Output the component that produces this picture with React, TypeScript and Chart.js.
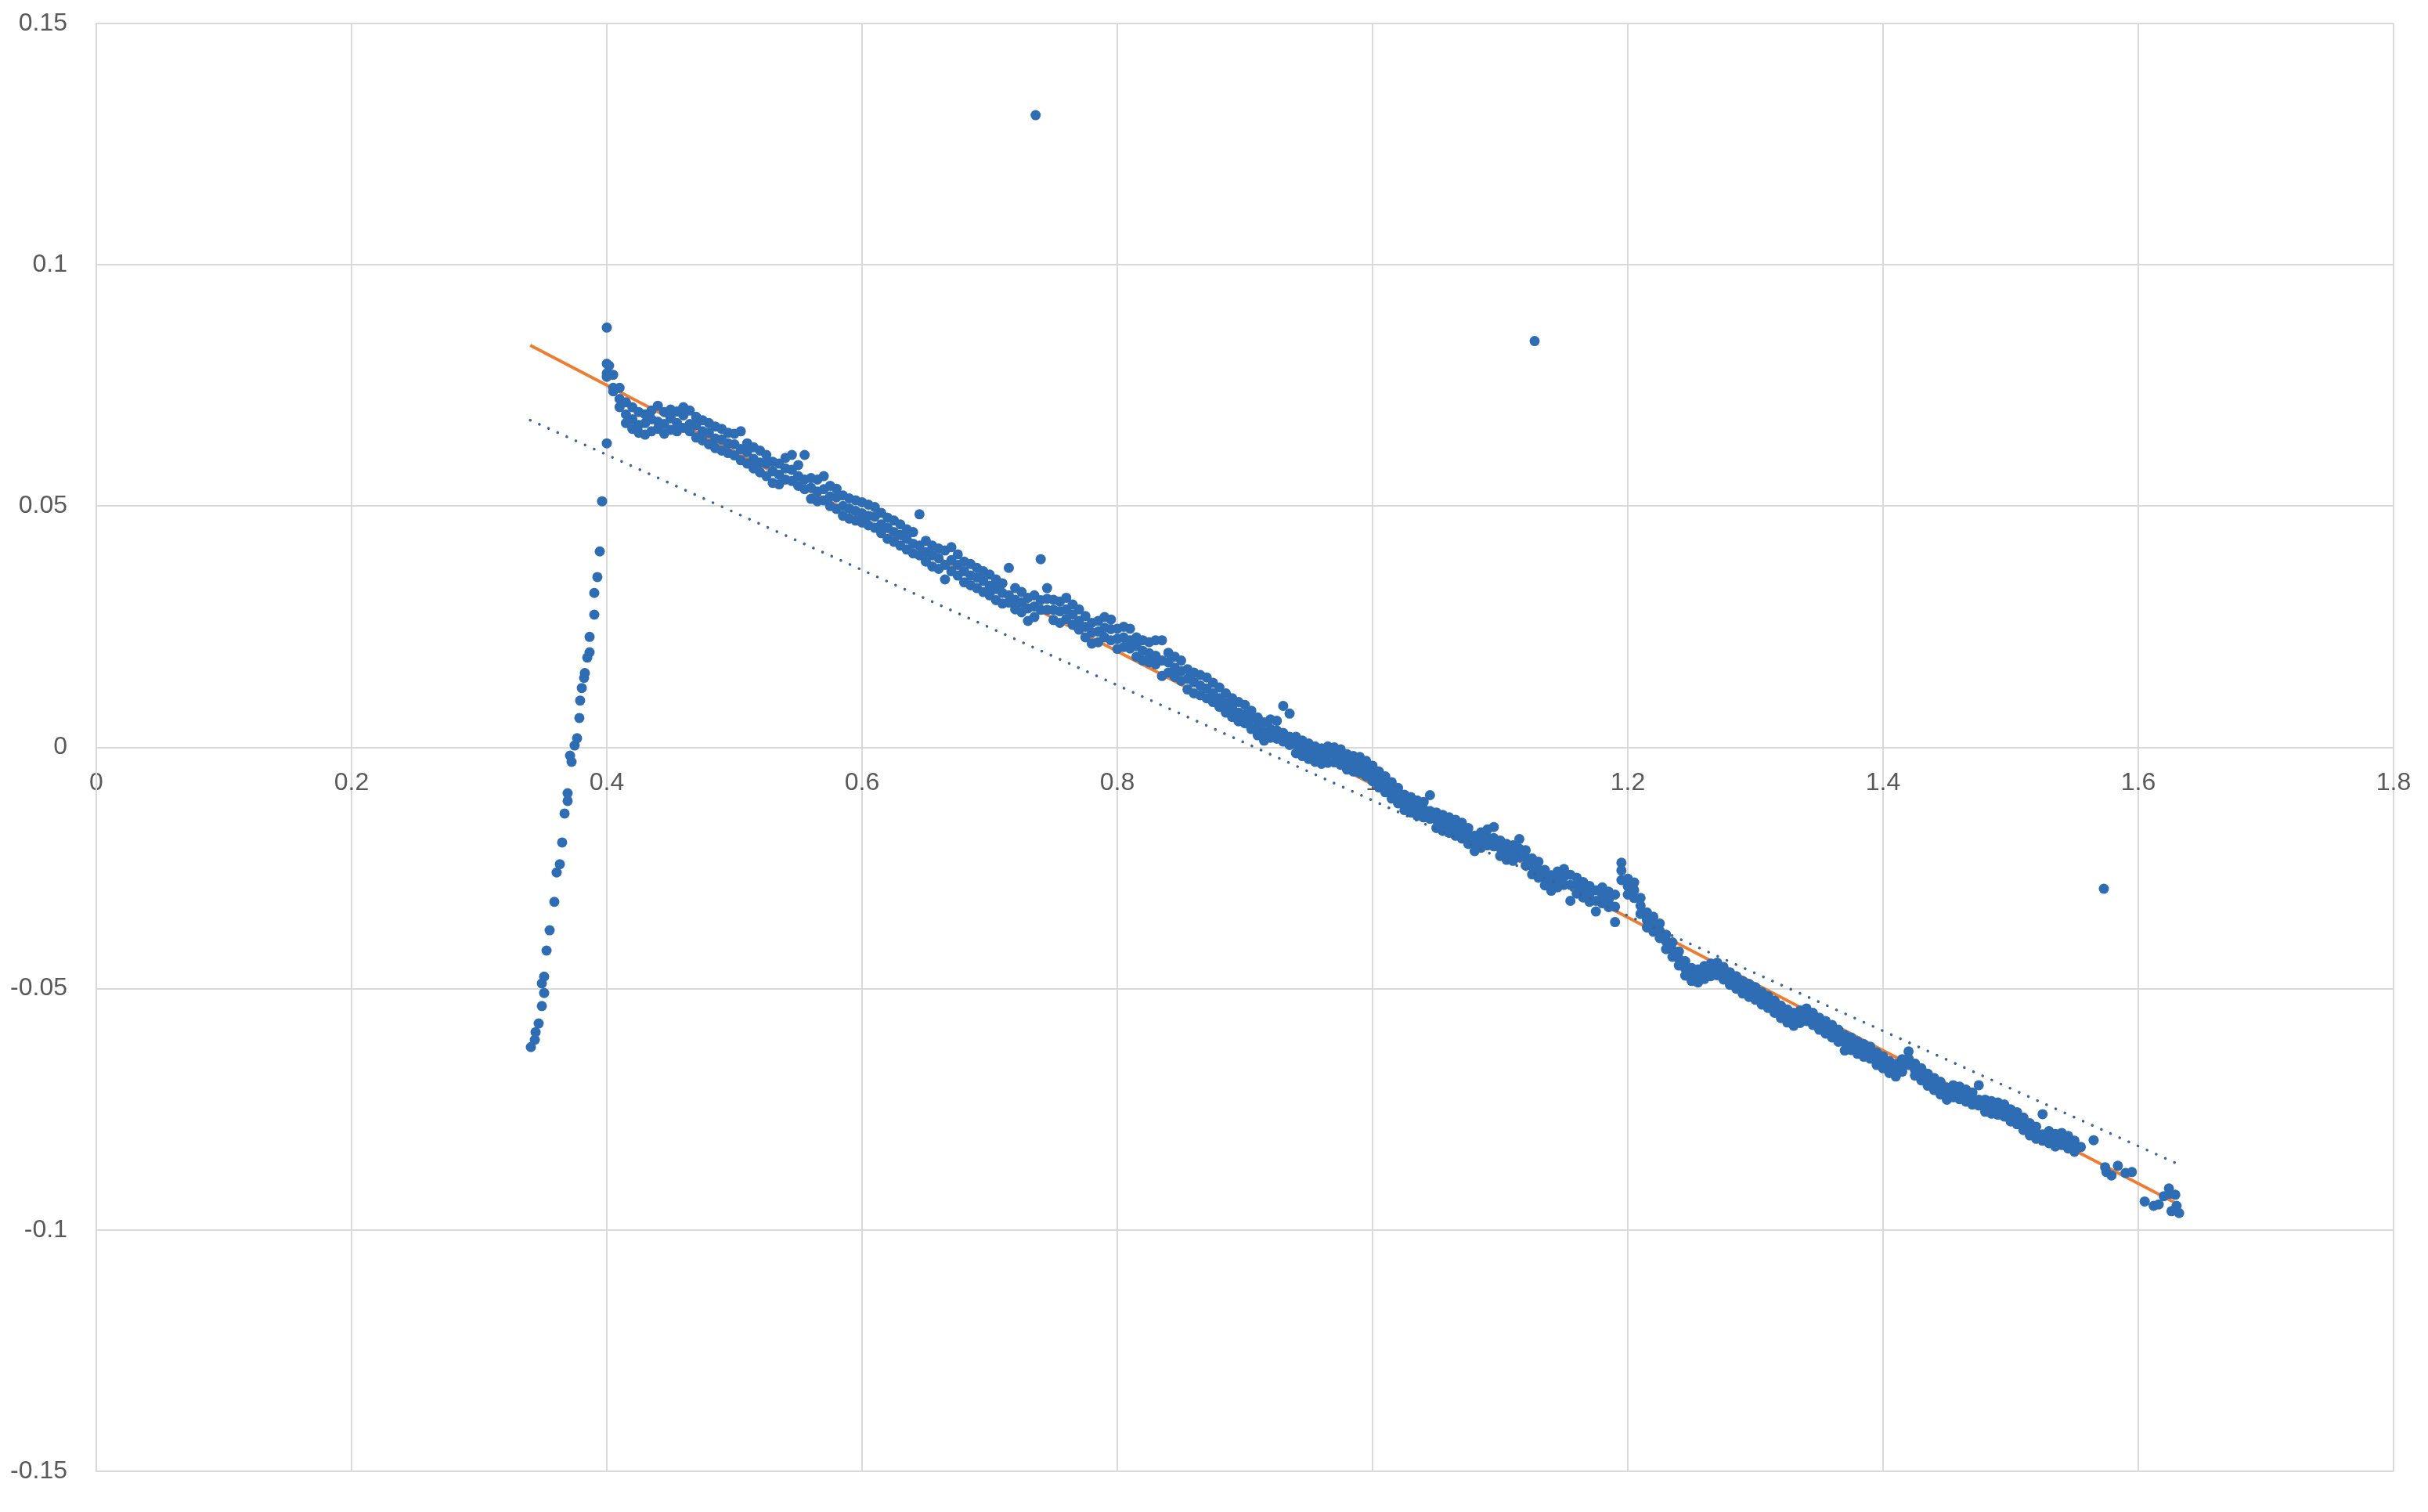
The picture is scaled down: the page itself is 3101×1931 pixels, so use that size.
import React, { useEffect, useRef } from "react";
import { Chart, registerables } from "chart.js";

Chart.register(...registerables);

const W = 3101;
const H = 1931;

// Rising branch at the left
const risingX = [0.3405, 0.3436, 0.3442, 0.3466, 0.3491, 0.3509, 0.3491, 0.3509, 0.3528, 0.3552, 0.3589, 0.3607, 0.3632, 0.3650, 0.3669, 0.3693, 0.3693, 0.3724, 0.3712, 0.3748, 0.3767, 0.3785, 0.3791, 0.3804, 0.3822, 0.3828, 0.3847, 0.3865, 0.3865, 0.3902, 0.3902, 0.3926, 0.3945, 0.3963, 0.4000, 0.4000, 0.4018];
const risingY = [-0.0621, -0.0606, -0.0590, -0.0572, -0.0536, -0.0509, -0.0489, -0.0475, -0.0421, -0.0379, -0.0320, -0.0259, -0.0242, -0.0197, -0.0137, -0.0111, -0.0095, -0.0030, -0.0017, 0.0004, 0.0019, 0.0061, 0.0097, 0.0123, 0.0144, 0.0154, 0.0186, 0.0197, 0.0229, 0.0275, 0.0320, 0.0353, 0.0406, 0.0510, 0.0630, 0.0870, 0.0791];

// Main declining band: x positions with upper, middle and lower readings
const bandX = [
  0.400, 0.405, 0.410, 0.415, 0.420, 0.425, 0.430, 0.435, 0.440, 0.445,
  0.450, 0.455, 0.460, 0.465, 0.470, 0.475, 0.480, 0.485, 0.490, 0.495,
  0.500, 0.505, 0.510, 0.515, 0.520, 0.525, 0.530, 0.535, 0.540, 0.545,
  0.550, 0.555, 0.560, 0.565, 0.570, 0.575, 0.580, 0.585, 0.590, 0.595,
  0.600, 0.605, 0.610, 0.615, 0.620, 0.625, 0.630, 0.635, 0.640, 0.645,
  0.650, 0.655, 0.660, 0.665, 0.670, 0.675, 0.680, 0.685, 0.690, 0.695,
  0.700, 0.705, 0.710, 0.715, 0.720, 0.725, 0.730, 0.735, 0.740, 0.745,
  0.750, 0.755, 0.760, 0.765, 0.770, 0.775, 0.780, 0.785, 0.790, 0.795,
  0.800, 0.805, 0.810, 0.815, 0.820, 0.825, 0.830, 0.835, 0.840, 0.845,
  0.850, 0.855, 0.860, 0.865, 0.870, 0.875, 0.880, 0.885, 0.890, 0.895,
  0.900, 0.905, 0.910, 0.915, 0.920, 0.925, 0.930, 0.935, 0.940, 0.945,
  0.950, 0.955, 0.960, 0.965, 0.970, 0.975, 0.980, 0.985, 0.990, 0.995,
  1.000, 1.005, 1.010, 1.015, 1.020, 1.025, 1.030, 1.035, 1.040, 1.045,
  1.050, 1.055, 1.060, 1.065, 1.070, 1.075, 1.080, 1.085, 1.090, 1.095,
  1.100, 1.105, 1.110, 1.115, 1.120, 1.125, 1.130, 1.135, 1.140, 1.145,
  1.150, 1.155, 1.160, 1.165, 1.170, 1.175, 1.180, 1.185, 1.190, 1.195,
  1.200, 1.205, 1.210, 1.215, 1.220, 1.225, 1.230, 1.235, 1.240, 1.245,
  1.250, 1.255, 1.260, 1.265, 1.270, 1.275, 1.280, 1.285, 1.290, 1.295,
  1.300, 1.305, 1.310, 1.315, 1.320, 1.325, 1.330, 1.335, 1.340, 1.345,
  1.350, 1.355, 1.360, 1.365, 1.370, 1.375, 1.380, 1.385, 1.390, 1.395,
  1.400, 1.405, 1.410, 1.415, 1.420, 1.425, 1.430, 1.435, 1.440, 1.445,
  1.450, 1.455, 1.460, 1.465, 1.470, 1.475, 1.480, 1.485, 1.490, 1.495,
  1.500, 1.505, 1.510, 1.515, 1.520, 1.525, 1.530, 1.535, 1.540, 1.545,
  1.550,
];
const bandHi = [
  0.0795, 0.0772, 0.0745, 0.0715, 0.0705, 0.0695, 0.0690, 0.0698, 0.0708, 0.0695,
  0.0700, 0.0696, 0.0705, 0.0698, 0.0685, 0.0678, 0.0672, 0.0665, 0.0660, 0.0652,
  0.0650, 0.0655, 0.0630, 0.0622, 0.0615, 0.0606, 0.0592, 0.0588, 0.0600, 0.0606,
  0.0585, 0.0606, 0.0558, 0.0555, 0.0562, 0.0542, 0.0536, 0.0522, 0.0516, 0.0512,
  0.0508, 0.0503, 0.0498, 0.0486, 0.0476, 0.0470, 0.0462, 0.0452, 0.0446, 0.0483,
  0.0428, 0.0418, 0.0412, 0.0408, 0.0415, 0.0400, 0.0385, 0.0380, 0.0372, 0.0365,
  0.0358, 0.0348, 0.0340, 0.0372, 0.0330, 0.0322, 0.0310, 0.0315, 0.0390, 0.0330,
  0.0306, 0.0302, 0.0310, 0.0296, 0.0286, 0.0272, 0.0258, 0.0262, 0.0270, 0.0265,
  0.0246, 0.0250, 0.0246, 0.0228, 0.0222, 0.0218, 0.0222, 0.0222, 0.0196, 0.0188,
  0.0180, 0.0162, 0.0155, 0.0150, 0.0145, 0.0134, 0.0124, 0.0112, 0.0102, 0.0094,
  0.0088, 0.0076, 0.0062, 0.0052, 0.0058, 0.0055, 0.0086, 0.0070, 0.0022, 0.0014,
  0.0008, 0.0002, -0.0002, 0.0002, 0.0000, -0.0004, -0.0014, -0.0018, -0.0020, -0.0028,
  -0.0038, -0.0050, -0.0060, -0.0072, -0.0084, -0.0098, -0.0103, -0.0110, -0.0113, -0.0099,
  -0.0135, -0.0140, -0.0145, -0.0150, -0.0156, -0.0167, -0.0183, -0.0176, -0.0170, -0.0165,
  -0.0193, -0.0200, -0.0203, -0.0190, -0.0213, -0.0230, -0.0237, -0.0254, -0.0265, -0.0257,
  -0.0252, -0.0264, -0.0270, -0.0279, -0.0287, -0.0296, -0.0290, -0.0299, -0.0305, -0.0239,
  -0.0272, -0.0280, -0.0312, -0.0342, -0.0351, -0.0365, -0.0388, -0.0404, -0.0423, -0.0443,
  -0.0457, -0.0460, -0.0453, -0.0448, -0.0446, -0.0455, -0.0466, -0.0474, -0.0484, -0.0490,
  -0.0497, -0.0507, -0.0515, -0.0525, -0.0535, -0.0543, -0.0550, -0.0545, -0.0541, -0.0550,
  -0.0560, -0.0567, -0.0575, -0.0585, -0.0596, -0.0601, -0.0609, -0.0615, -0.0620, -0.0632,
  -0.0640, -0.0650, -0.0656, -0.0646, -0.0630, -0.0655, -0.0665, -0.0676, -0.0685, -0.0693,
  -0.0705, -0.0700, -0.0703, -0.0709, -0.0715, -0.0700, -0.0730, -0.0733, -0.0736, -0.0740,
  -0.0750, -0.0756, -0.0767, -0.0779, -0.0786, -0.0760, -0.0795, -0.0801, -0.0799, -0.0805,
  -0.0815,
];
const bandMid = [
  0.0775, 0.0745, 0.0722, 0.0690, 0.0680, 0.0668, 0.0672, 0.0680, 0.0675, 0.0670,
  0.0682, 0.0672, 0.0688, 0.0670, 0.0668, 0.0655, 0.0652, 0.0640, 0.0638, 0.0630,
  0.0628, 0.0618, 0.0612, 0.0598, 0.0590, 0.0588, 0.0572, 0.0565, 0.0578, 0.0575,
  0.0562, 0.0555, 0.0538, 0.0530, 0.0535, 0.0520, 0.0518, 0.0500, 0.0495, 0.0490,
  0.0485, 0.0480, 0.0478, 0.0462, 0.0455, 0.0446, 0.0440, 0.0432, 0.0422, 0.0418,
  0.0405, 0.0398, 0.0392, 0.0378, 0.0388, 0.0378, 0.0365, 0.0356, 0.0352, 0.0345,
  0.0335, 0.0328, 0.0320, 0.0315, 0.0306, 0.0300, 0.0288, 0.0292, 0.0305, 0.0308,
  0.0285, 0.0282, 0.0286, 0.0275, 0.0262, 0.0250, 0.0238, 0.0240, 0.0248, 0.0245,
  0.0225, 0.0228, 0.0222, 0.0210, 0.0200, 0.0195, 0.0190, 0.0180, 0.0176, 0.0165,
  0.0158, 0.0142, 0.0135, 0.0128, 0.0122, 0.0112, 0.0102, 0.0092, 0.0082, 0.0072,
  0.0068, 0.0058, 0.0044, 0.0032, 0.0038, 0.0035, 0.0030, 0.0022, 0.0006, -0.0002,
  -0.0008, -0.0012, -0.0018, -0.0014, -0.0016, -0.0020, -0.0030, -0.0034, -0.0036, -0.0044,
  -0.0054, -0.0066, -0.0076, -0.0088, -0.0100, -0.0112, -0.0120, -0.0126, -0.0128, -0.0132,
  -0.0150, -0.0156, -0.0162, -0.0166, -0.0172, -0.0182, -0.0198, -0.0192, -0.0186, -0.0188,
  -0.0208, -0.0216, -0.0220, -0.0210, -0.0228, -0.0246, -0.0254, -0.0270, -0.0280, -0.0274,
  -0.0268, -0.0285, -0.0286, -0.0295, -0.0304, -0.0318, -0.0306, -0.0316, -0.0330, -0.0255,
  -0.0288, -0.0296, -0.0328, -0.0358, -0.0366, -0.0380, -0.0402, -0.0420, -0.0438, -0.0458,
  -0.0470, -0.0474, -0.0466, -0.0460, -0.0460, -0.0468, -0.0479, -0.0488, -0.0498, -0.0504,
  -0.0510, -0.0520, -0.0528, -0.0538, -0.0548, -0.0556, -0.0564, -0.0558, -0.0554, -0.0562,
  -0.0572, -0.0580, -0.0588, -0.0598, -0.0612, -0.0614, -0.0622, -0.0628, -0.0632, -0.0645,
  -0.0652, -0.0662, -0.0670, -0.0660, -0.0645, -0.0668, -0.0678, -0.0688, -0.0698, -0.0706,
  -0.0718, -0.0712, -0.0716, -0.0722, -0.0728, -0.0730, -0.0742, -0.0746, -0.0748, -0.0752,
  -0.0762, -0.0768, -0.0780, -0.0792, -0.0798, -0.0802, -0.0808, -0.0814, -0.0812, -0.0818,
  -0.0826,
];
const bandLo = [
  0.0768, 0.0738, 0.0705, 0.0672, 0.0660, 0.0652, 0.0648, 0.0655, 0.0660, 0.0650,
  0.0658, 0.0655, 0.0662, 0.0655, 0.0642, 0.0636, 0.0628, 0.0620, 0.0615, 0.0610,
  0.0605, 0.0595, 0.0588, 0.0578, 0.0570, 0.0562, 0.0548, 0.0545, 0.0555, 0.0552,
  0.0542, 0.0535, 0.0515, 0.0510, 0.0512, 0.0500, 0.0494, 0.0480, 0.0474, 0.0470,
  0.0466, 0.0460, 0.0455, 0.0444, 0.0432, 0.0426, 0.0418, 0.0410, 0.0402, 0.0398,
  0.0385, 0.0375, 0.0370, 0.0348, 0.0365, 0.0356, 0.0342, 0.0336, 0.0330, 0.0322,
  0.0315, 0.0305, 0.0298, 0.0300, 0.0286, 0.0280, 0.0262, 0.0270, 0.0285, 0.0285,
  0.0264, 0.0258, 0.0266, 0.0254, 0.0244, 0.0228, 0.0215, 0.0218, 0.0228, 0.0222,
  0.0204, 0.0208, 0.0205, 0.0188, 0.0180, 0.0176, 0.0172, 0.0148, 0.0155, 0.0146,
  0.0138, 0.0120, 0.0112, 0.0108, 0.0102, 0.0094, 0.0084, 0.0072, 0.0063, 0.0054,
  0.0050, 0.0038, 0.0025, 0.0014, 0.0020, 0.0018, 0.0012, 0.0005, -0.0012, -0.0018,
  -0.0024, -0.0030, -0.0034, -0.0032, -0.0031, -0.0036, -0.0046, -0.0050, -0.0053, -0.0060,
  -0.0070, -0.0083, -0.0093, -0.0106, -0.0116, -0.0130, -0.0135, -0.0142, -0.0145, -0.0148,
  -0.0167, -0.0173, -0.0177, -0.0183, -0.0189, -0.0200, -0.0215, -0.0208, -0.0203, -0.0205,
  -0.0225, -0.0233, -0.0235, -0.0228, -0.0245, -0.0263, -0.0270, -0.0286, -0.0297, -0.0290,
  -0.0285, -0.0318, -0.0303, -0.0311, -0.0320, -0.0340, -0.0323, -0.0331, -0.0362, -0.0275,
  -0.0305, -0.0312, -0.0345, -0.0373, -0.0382, -0.0395, -0.0418, -0.0434, -0.0452, -0.0473,
  -0.0484, -0.0487, -0.0480, -0.0474, -0.0472, -0.0481, -0.0492, -0.0500, -0.0510, -0.0517,
  -0.0523, -0.0533, -0.0540, -0.0550, -0.0561, -0.0570, -0.0577, -0.0571, -0.0567, -0.0575,
  -0.0585, -0.0593, -0.0601, -0.0610, -0.0628, -0.0627, -0.0635, -0.0641, -0.0645, -0.0658,
  -0.0665, -0.0675, -0.0682, -0.0672, -0.0658, -0.0680, -0.0690, -0.0701, -0.0710, -0.0719,
  -0.0730, -0.0725, -0.0729, -0.0734, -0.0740, -0.0742, -0.0755, -0.0759, -0.0761, -0.0765,
  -0.0775, -0.0781, -0.0793, -0.0804, -0.0811, -0.0815, -0.0820, -0.0827, -0.0824, -0.0831,
  -0.0838,
];

// Sparse tail at the right end
const tailX = [1.555, 1.565, 1.574, 1.575, 1.579, 1.584, 1.590, 1.595, 1.605, 1.612, 1.616, 1.620, 1.624, 1.625, 1.626, 1.629, 1.630, 1.632];
const tailY = [-0.0828, -0.0814, -0.0870, -0.0880, -0.0887, -0.0867, -0.0882, -0.0880, -0.0941, -0.0950, -0.0947, -0.0930, -0.0914, -0.0925, -0.0961, -0.0927, -0.0950, -0.0965];

// Isolated outliers
const outlierX = [0.736, 1.127, 1.573];
const outlierY = [0.131, 0.0842, -0.0293];

// Trend lines (endpoints)
const orangeTrendX = [0.34, 1.63];
const orangeTrendY = [0.0833, -0.0945];
const dottedTrendX = [0.34, 1.63];
const dottedTrendY = [0.0678, -0.0862];

// Axis ticks
const xTicks = [0, 0.2, 0.4, 0.6, 0.8, 1, 1.2, 1.4, 1.6, 1.8];
const yTicks = [-0.15, -0.1, -0.05, 0, 0.05, 0.1, 0.15];

const zip = (xs: number[], ys: number[]) => xs.map((x, i) => ({ x, y: ys[i] }));

const fmt = (v: number) => String(Math.round(v * 100) / 100);

export default function App() {
  const ref = useRef<HTMLCanvasElement>(null);

  useEffect(() => {
    const canvas = ref.current;
    if (!canvas) return;
    const points = [
      ...zip(risingX, risingY),
      ...zip(bandX, bandHi),
      ...zip(bandX, bandMid),
      ...zip(bandX, bandLo),
      ...zip(tailX, tailY),
      ...zip(outlierX, outlierY),
    ];
    const labelFont = { family: "'Liberation Sans', Arial, sans-serif", size: 32 };
    const gridColor = "#d9d9d9";
    const zeroPad = (s: any) => {
      s.paddingLeft = 0;
      s.paddingRight = 0;
      s.paddingTop = 0;
      s.paddingBottom = 0;
    };
    const chart = new Chart(canvas, {
      type: "scatter",
      data: {
        datasets: [
          {
            type: "line",
            data: zip(dottedTrendX, dottedTrendY),
            borderColor: "#3a6496",
            borderWidth: 3.5,
            borderDash: [0.1, 12.7],
            borderCapStyle: "round",
            pointRadius: 0,
            fill: false,
            order: 0,
          } as any,
          {
            type: "scatter",
            data: points,
            backgroundColor: "#2E6DB4",
            borderColor: "#2E6DB4",
            borderWidth: 0,
            pointRadius: 6.5,
            pointHoverRadius: 6.5,
            order: 1,
          } as any,
          {
            type: "line",
            data: zip(orangeTrendX, orangeTrendY),
            borderColor: "#ED7D31",
            borderWidth: 4,
            pointRadius: 0,
            fill: false,
            order: 2,
          } as any,
        ],
      },
      options: {
        animation: false,
        responsive: false,
        devicePixelRatio: 1,
        events: [],
        layout: { padding: { top: 30, right: 44, bottom: 52, left: 0 } },
        plugins: { legend: { display: false }, tooltip: { enabled: false } },
        scales: {
          x: {
            type: "linear",
            min: 0,
            max: 1.8,
            position: { y: 0 } as any,
            afterFit: zeroPad,
            afterBuildTicks: (s: any) => {
              s.ticks = xTicks.map((v) => ({ value: v }));
            },
            ticks: {
              padding: 26,
              color: "#595959",
              font: labelFont,
              maxRotation: 0,
              autoSkip: false,
              callback: (v: any) => fmt(Number(v)),
            },
            grid: { color: gridColor, lineWidth: 2, drawTicks: false },
            border: { color: gridColor, width: 2 },
          },
          y: {
            type: "linear",
            min: -0.15,
            max: 0.15,
            position: "left",
            afterFit: (s: any) => {
              zeroPad(s);
              s.width = 123;
            },
            afterBuildTicks: (s: any) => {
              s.ticks = yTicks.map((v) => ({ value: v }));
            },
            ticks: {
              padding: 37,
              color: "#595959",
              font: labelFont,
              autoSkip: false,
              callback: (v: any) => fmt(Number(v)),
            },
            grid: { color: gridColor, lineWidth: 2, drawTicks: false },
            border: { color: gridColor, width: 2 },
          },
        },
      } as any,
    });
    return () => chart.destroy();
  }, []);

  return (
    <div style={{ position: "fixed", left: 0, top: 0, width: W, height: H, background: "#ffffff" }}>
      <canvas ref={ref} width={W} height={H} style={{ width: W, height: H, display: "block" }} />
    </div>
  );
}
